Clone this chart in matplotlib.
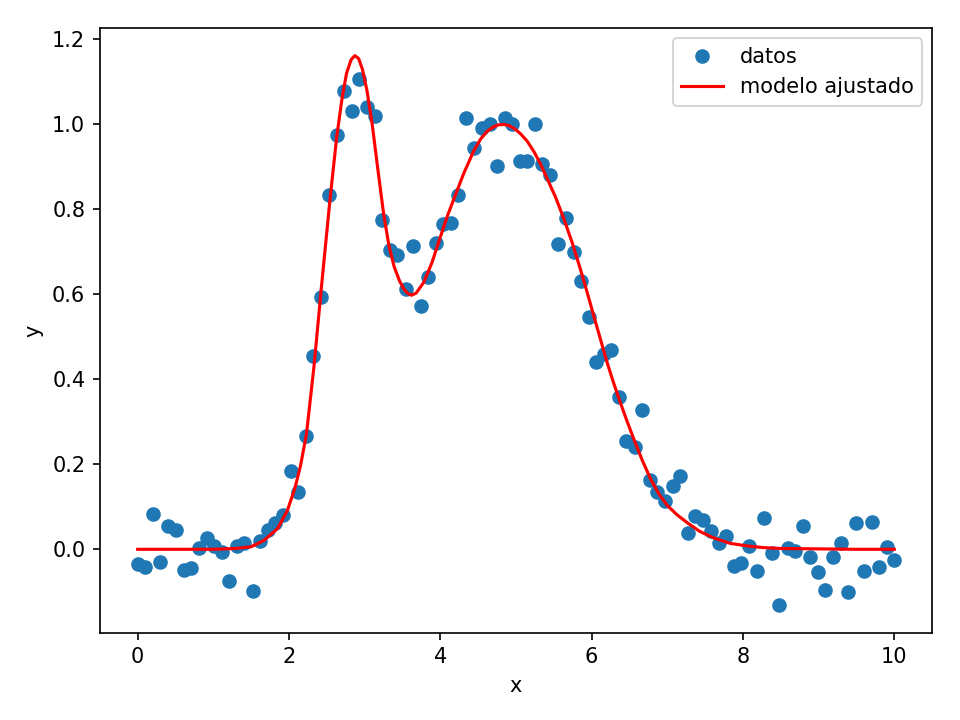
import matplotlib
matplotlib.use("Agg")
from matplotlib import pyplot as plt

# datos medidos (x equiespaciado de 0 a 10, 100 puntos)
x_datos = [0.00, 0.10, 0.20, 0.30, 0.40, 0.51, 0.61, 0.71, 0.81, 0.91,
           1.01, 1.11, 1.21, 1.31, 1.41, 1.52, 1.62, 1.72, 1.82, 1.92,
           2.02, 2.12, 2.22, 2.32, 2.42, 2.53, 2.63, 2.73, 2.83, 2.93,
           3.03, 3.13, 3.23, 3.33, 3.43, 3.54, 3.64, 3.74, 3.84, 3.94,
           4.04, 4.14, 4.24, 4.34, 4.44, 4.55, 4.65, 4.75, 4.85, 4.95,
           5.05, 5.15, 5.25, 5.35, 5.45, 5.56, 5.66, 5.76, 5.86, 5.96,
           6.06, 6.16, 6.26, 6.36, 6.46, 6.57, 6.67, 6.77, 6.87, 6.97,
           7.07, 7.17, 7.27, 7.37, 7.47, 7.58, 7.68, 7.78, 7.88, 7.98,
           8.08, 8.18, 8.28, 8.38, 8.48, 8.59, 8.69, 8.79, 8.89, 8.99,
           9.09, 9.19, 9.29, 9.39, 9.49, 9.60, 9.70, 9.80, 9.90, 10.00]
y_datos = [-0.035, -0.042, 0.082, -0.031, 0.054, 0.045, -0.049, -0.045, 0.002, 0.026,
           0.007, -0.007, -0.075, 0.007, 0.014, -0.099, 0.019, 0.045, 0.061, 0.080,
           0.184, 0.134, 0.266, 0.454, 0.593, 0.833, 0.976, 1.078, 1.031, 1.106,
           1.042, 1.019, 0.776, 0.704, 0.692, 0.612, 0.713, 0.572, 0.640, 0.722,
           0.765, 0.769, 0.835, 1.016, 0.944, 0.991, 1.000, 0.901, 1.014, 1.000,
           0.913, 0.913, 1.002, 0.906, 0.882, 0.718, 0.779, 0.699, 0.631, 0.546,
           0.440, 0.459, 0.468, 0.358, 0.254, 0.240, 0.327, 0.162, 0.136, 0.113,
           0.148, 0.172, 0.038, 0.078, 0.068, 0.042, 0.014, 0.031, -0.040, -0.033,
           0.007, -0.052, 0.073, -0.009, -0.132, 0.002, -0.005, 0.056, -0.019, -0.054,
           -0.096, -0.019, 0.014, -0.101, 0.061, -0.052, 0.064, -0.042, 0.005, -0.024]

# curva del modelo ajustado
x_modelo = [0.0, 0.5, 1.0, 1.3, 1.5, 1.67, 1.85, 1.98, 2.08, 2.15, 2.23, 2.33, 2.43,
            2.54, 2.63, 2.70, 2.76, 2.82, 2.87, 2.92, 2.97, 3.03, 3.10, 3.17, 3.25,
            3.32, 3.39, 3.46, 3.52, 3.57, 3.62, 3.68, 3.78, 3.89, 4.00, 4.09, 4.18,
            4.31, 4.44, 4.53, 4.62, 4.70, 4.77, 4.84, 4.91, 4.98, 5.06, 5.15, 5.24,
            5.32, 5.41, 5.52, 5.63, 5.74, 5.85, 5.94, 6.03, 6.12, 6.20, 6.28, 6.36,
            6.46, 6.56, 6.67, 6.78, 6.89, 7.00, 7.13, 7.26, 7.43, 7.61, 7.83, 8.05,
            8.27, 8.49, 9.0, 9.5, 10.0]
y_modelo = [0.0, 0.0, 0.0, 0.002, 0.006, 0.021, 0.049, 0.092, 0.145, 0.195, 0.27, 0.43, 0.62,
            0.82, 0.97, 1.06, 1.12, 1.152, 1.162, 1.155, 1.13, 1.08, 1.00, 0.90, 0.79,
            0.715, 0.665, 0.632, 0.612, 0.602, 0.598, 0.603, 0.628, 0.675, 0.735, 0.783, 0.825,
            0.885, 0.937, 0.965, 0.984, 0.994, 0.999, 1.000, 0.997, 0.990, 0.978, 0.960, 0.935,
            0.908, 0.873, 0.830, 0.779, 0.723, 0.660, 0.605, 0.548, 0.492, 0.442, 0.397, 0.355,
            0.305, 0.258, 0.209, 0.165, 0.130, 0.103, 0.081, 0.063, 0.042, 0.027, 0.014, 0.008,
            0.004, 0.002, 0.001, 0.0, 0.0]

fig, ax = plt.subplots(figsize=(6.4, 4.8), dpi=150)
ax.plot(x_datos, y_datos, 'o', label='datos')
ax.plot(x_modelo, y_modelo, 'r-', label='modelo ajustado')
ax.set_xlabel('x')
ax.set_ylabel('y')
ax.legend()
fig.subplots_adjust(left=0.104, right=0.971, top=0.961, bottom=0.121)
fig.savefig('out.png')
